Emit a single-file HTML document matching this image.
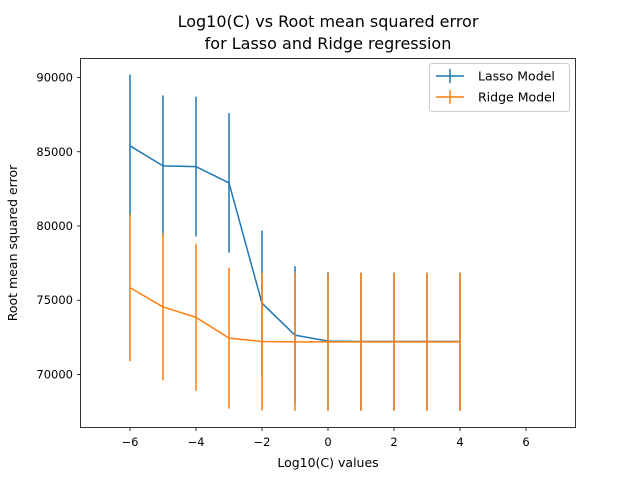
<!DOCTYPE html>
<html><head><meta charset="utf-8"><style>
body{margin:0;background:#fff;}
svg text{font-family:"DejaVu Sans","Liberation Sans",sans-serif;fill:#000;}
</style></head><body>
<svg id="chart" width="640" height="480" xmlns="http://www.w3.org/2000/svg">
<rect width="640" height="480" fill="#fff"/>
<text x="328" y="27" font-size="16" text-anchor="middle">Log10(C) vs Root mean squared error</text>
<text x="328" y="49" font-size="16" text-anchor="middle">for Lasso and Ridge regression</text>
<g id="ticks"></g>
<g id="series"></g>
<rect x="80.5" y="58.5" width="495" height="369" fill="none" stroke="#000" stroke-width="0.8"/>
<text x="328" y="467" font-size="12.5" text-anchor="middle">Log10(C) values</text>
<text transform="translate(17,243) rotate(-90)" font-size="12.5" text-anchor="middle">Root mean squared error</text>
<g>
<rect x="429.5" y="63.5" width="140" height="48" rx="3" fill="#fff" fill-opacity="0.8" stroke="#ccc"/>
<g>
<line x1="436" y1="76" x2="464" y2="76" stroke="#1f77b4" stroke-width="1.5"/><line x1="450" y1="69" x2="450" y2="83" stroke="#1f77b4" stroke-width="1.5"/>
<text x="478" y="80.5" font-size="12.5">Lasso Model</text></g>
<g>
<line x1="436" y1="97" x2="464" y2="97" stroke="#ff7f0e" stroke-width="1.5"/><line x1="450" y1="90" x2="450" y2="104" stroke="#ff7f0e" stroke-width="1.5"/>
<text x="478" y="101.5" font-size="12.5">Ridge Model</text></g>
</g>
</svg>
<script>
const xCats=[-6,-5,-4,-3,-2,-1,0,1,2,3,4];
const lassoVals=[85400,84050,84000,82900,74800,72650,72250,72220,72220,72220,72220];
const lassoErr=[4800,4750,4700,4700,4900,4650,4650,4650,4650,4650,4650];
const ridgeVals=[75850,74550,73850,72450,72220,72200,72200,72200,72200,72200,72200];
const ridgeErr=[4950,4950,4950,4750,4650,4650,4650,4650,4650,4650,4650];
const xTicks=[-6,-4,-2,0,2,4,6];
const yTicks=[70000,75000,80000,85000,90000];
const NS="http://www.w3.org/2000/svg";
const xS=v=>80.5+(v+7.5)/15*495;
const yS=v=>427.5-(v-66430)/(91280-66430)*369;
function mk(tag,attrs,parent){const e=document.createElementNS(NS,tag);for(const k in attrs)e.setAttribute(k,attrs[k]);parent.appendChild(e);return e;}
const tg=document.getElementById('ticks');
xTicks.forEach(t=>{const x=xS(t);
 const l=mk('line',{x1:x,y1:427.5,x2:x,y2:431,stroke:'#000','stroke-width':0.8},tg);
 
 
 const tx=mk('text',{x:x,y:446,'font-size':11.5,'text-anchor':'middle'},tg);tx.textContent=(t<0?'−'+(-t):t);
 
 
});
yTicks.forEach(t=>{const y=yS(t);
 const l=mk('line',{x1:77,y1:y,x2:80.5,y2:y,stroke:'#000','stroke-width':0.8},tg);
 
 
 const tx=mk('text',{x:73,y:y+4,'font-size':11.5,'text-anchor':'end'},tg);tx.textContent=t;
 
 
});
const sg=document.getElementById('series');
function series(vals,errs,color,name){
 const g=mk('g',{},sg);
 
 
 const pts=xCats.map((c,i)=>xS(c)+','+yS(vals[i])).join(' ');
 const pl=mk('polyline',{points:pts,fill:'none',stroke:color,'stroke-width':1.5},g);
 
 
 xCats.forEach((c,i)=>{
  const e=mk('line',{x1:xS(c),x2:xS(c),y1:yS(vals[i]-errs[i]),y2:yS(vals[i]+errs[i]),stroke:color,'stroke-width':1.5},g);
  
  
 });
}
series(lassoVals,lassoErr,'#1f77b4','lasso');
series(ridgeVals,ridgeErr,'#ff7f0e','ridge');
</script>
</body></html>
